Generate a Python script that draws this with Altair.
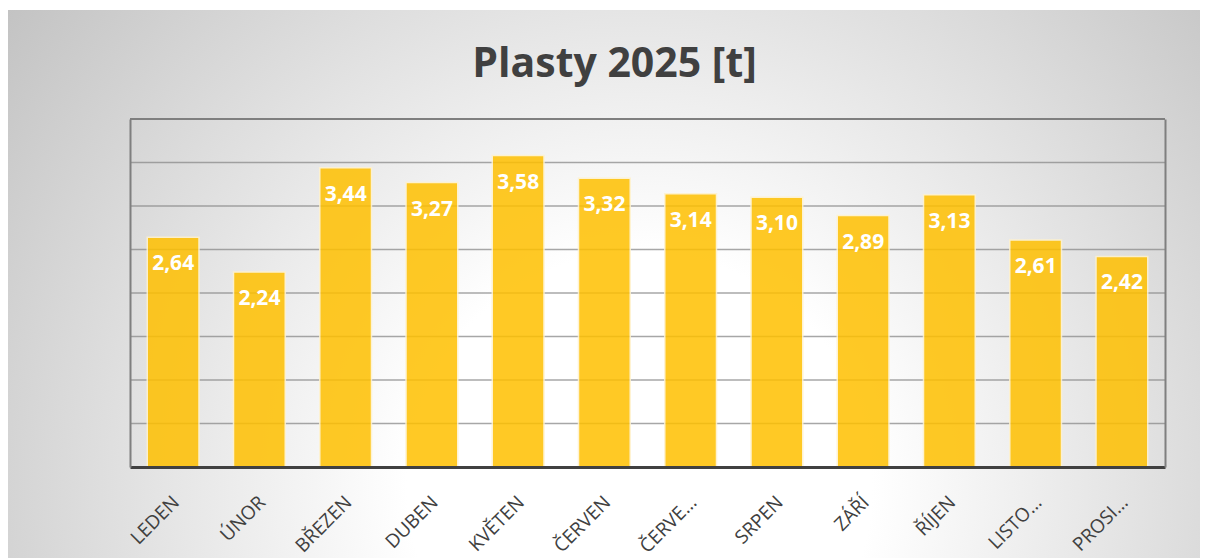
import altair as alt
import pandas as pd

months = ["LEDEN", "ÚNOR", "BŘEZEN", "DUBEN", "KVĚTEN", "ČERVEN",
          "ČERVE...", "SRPEN", "ZÁŘÍ", "ŘÍJEN", "LISTO...", "PROSI..."]
values = [2.64, 2.24, 3.44, 3.27, 3.58, 3.32, 3.14, 3.10, 2.89, 3.13, 2.61, 2.42]
grid_values = [0.5, 1.0, 1.5, 2.0, 2.5, 3.0, 3.5]
top_value = [4.0]

W, H = 1035, 348
PAD = {"left": 122, "top": 111, "right": 35, "bottom": 91}

df = pd.DataFrame({"m": months, "v": values})
ydom = alt.Scale(domain=[0, 4], nice=False, zero=True)
xscale = alt.Scale(paddingInner=0.4, paddingOuter=0.2)

gradient = alt.RadialGradient(
    gradient="radial",
    x1=0.53, y1=0.66, r1=0,
    x2=0.53, y2=0.66, r2=0.78,
    stops=[alt.GradientStop(offset=0, color="#ffffff"),
           alt.GradientStop(offset=0.25, color="#ffffff"),
           alt.GradientStop(offset=1, color="#b4b4b4")],
)

bg = alt.Chart(alt.Data(values=[{"a": 1}])).mark_rect(fill=gradient).encode(
    x=alt.value(-PAD["left"]), x2=alt.value(W + PAD["right"]),
    y=alt.value(-PAD["top"] + 2), y2=alt.value(H + PAD["bottom"] + 20),
)

grid = alt.Chart(pd.DataFrame({"g": grid_values})).mark_rule(
    color="#8a8a8a", strokeWidth=1.5, opacity=0.75
).encode(
    y=alt.Y("g:Q", scale=ydom,
            axis=alt.Axis(orient="right", labels=False, ticks=False, grid=False,
                          domainColor="#7f7f7f", domainWidth=2, title=None, zindex=1))
)

top = alt.Chart(pd.DataFrame({"t": top_value})).mark_rule(
    color="#7f7f7f", strokeWidth=2
).encode(y=alt.Y("t:Q", scale=ydom, axis=None))

bars = alt.Chart(df).mark_bar(
    color="#FFC000", opacity=0.85, stroke="#FFF2CC", strokeWidth=1.5
).encode(
    x=alt.X("m:N", sort=months, scale=xscale,
            axis=alt.Axis(orient="bottom", title=None, labelAngle=-45, labelAlign="right",
                          labelBaseline="middle", labelFont="Open Sans", labelFontSize=19,
                          labelColor="#404040", labelPadding=32, labelOffset=3,
                          ticks=False, tickSize=0, domainColor="#404040", domainWidth=3,
                          zindex=1, labelLimit=200)),
    y=alt.Y("v:Q", scale=ydom,
            axis=alt.Axis(orient="left", labels=False, ticks=False, grid=False,
                          domainColor="#7f7f7f", domainWidth=2, title=None, zindex=1)),
)

labels = alt.Chart(df).transform_calculate(
    lab="replace(format(datum.v, '.2f'), '.', ',')"
).mark_text(
    font="Open Sans", fontSize=21, fontWeight="bold", color="white",
    baseline="middle", align="center", dy=27
).encode(
    x=alt.X("m:N", sort=months),
    y=alt.Y("v:Q", scale=ydom, axis=None),
    text="lab:N",
)

chart = alt.layer(bg, grid, top, bars, labels).properties(
    width=W, height=H,
    padding=PAD,
    autosize=alt.AutoSizeParams(type="none"),
    title=alt.TitleParams(
        "Plasty 2025 [t]", font="Open Sans", fontSize=41, fontWeight="bold",
        color="#404040", anchor="middle", frame="group", offset=-76, dx=-33,
    ),
).configure(background="white").configure_view(stroke=None)

chart.save("out.html", embed_options={"renderer": "svg", "actions": False})
